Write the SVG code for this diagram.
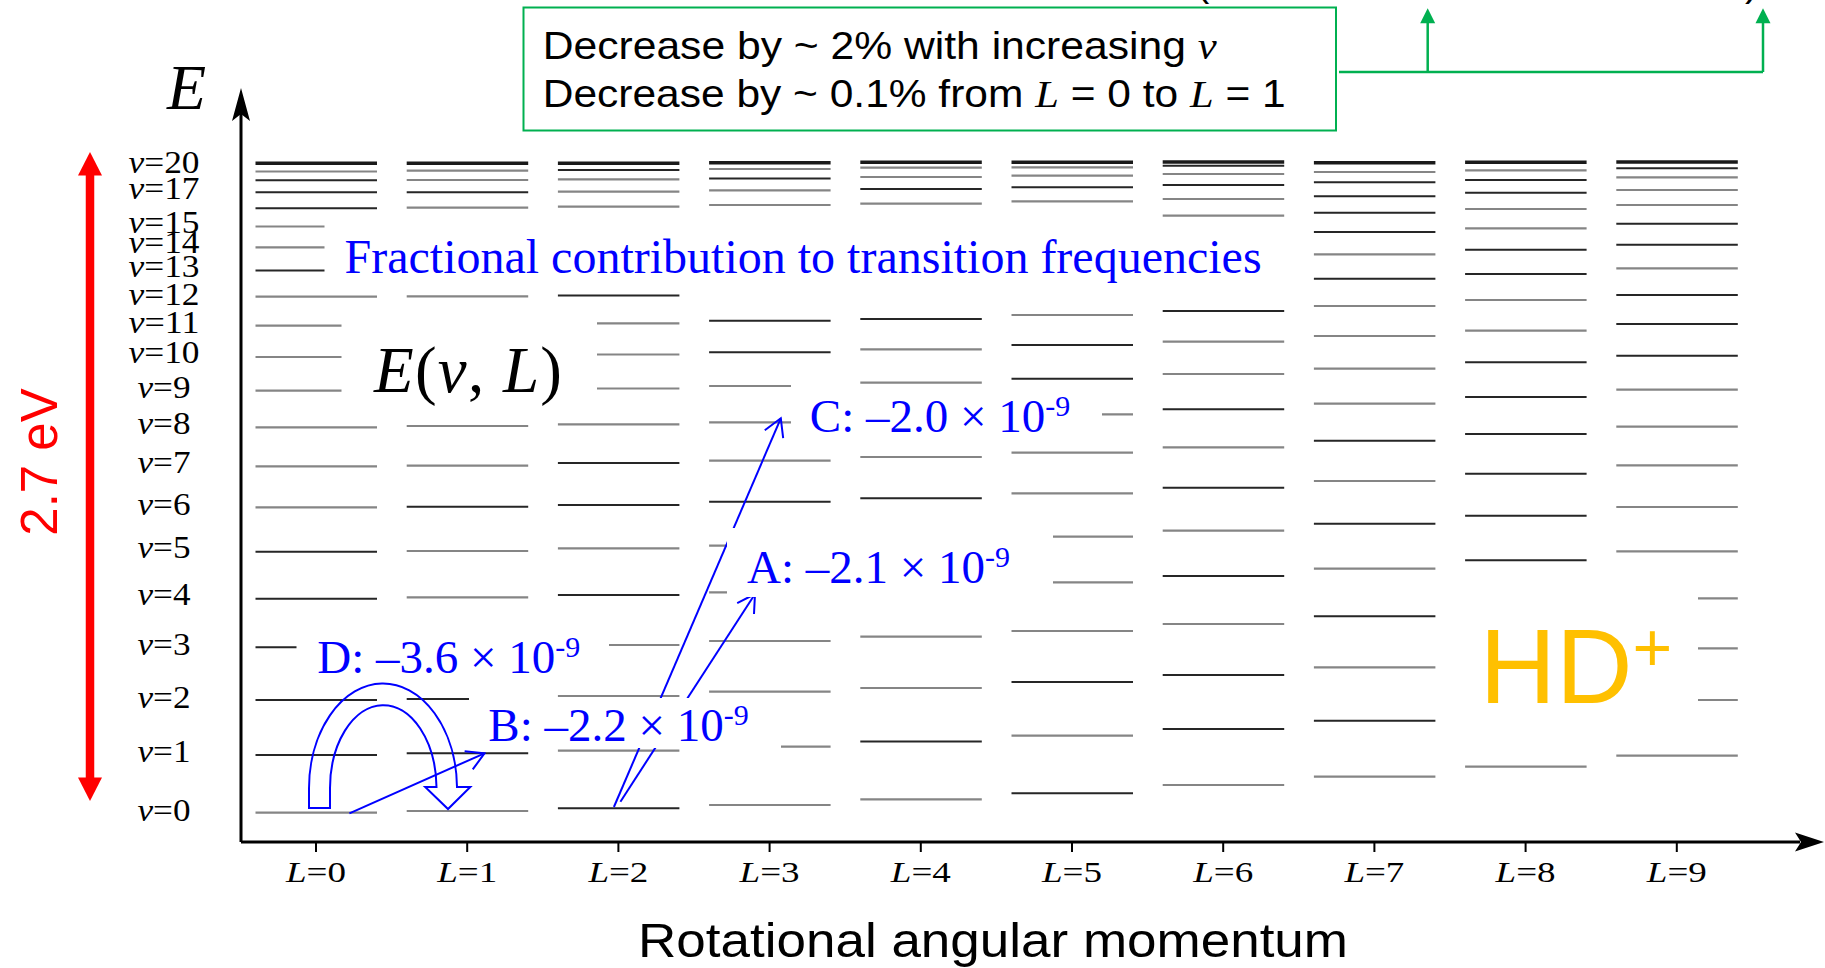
<svg xmlns="http://www.w3.org/2000/svg" width="1825" height="968" viewBox="0 0 1825 968">
<defs>
<marker id="openHead" markerUnits="userSpaceOnUse" viewBox="-20 -12 22 24" refX="0" refY="0" markerWidth="22" markerHeight="24" orient="auto">
<path d="M-17.3,-10 L0,0 L-17.3,10" fill="none" stroke="#0000FF" stroke-width="2"/>
</marker>
</defs>
<style>
.dk{stroke:#262626;stroke-width:2;fill:none}
.gr{stroke:#858585;stroke-width:2.2;fill:none}
.tp{stroke:#1a1a1a;stroke-width:3.6;fill:none}
.serif{font-family:"Liberation Serif","Times New Roman",serif}
.sans{font-family:"Liberation Sans",Arial,sans-serif}
.it{font-style:italic}
.vl{font-size:31px;text-anchor:middle;fill:#000}
.ll{font-size:30px;text-anchor:middle;fill:#000}
.blue{fill:#0000FF}
.frac{font-size:47px}
.sup{font-size:30px}
.wbox{fill:#FFFFFF}
.arr{stroke:#0000FF;stroke-width:2;fill:none}
.grn{stroke:#00B050;stroke-width:2.5;fill:none}
</style>

<g id="levels">
<g id="col-L0">
<path class="dk" d="M255.5 755H377M255.5 700H377M255.5 647.3H296.5M255.5 598.7H377M255.5 551.7H377M255.5 270.5H324.5M255.5 208.3H377M255.5 192.3H377M255.5 180.3H377"/>
<path class="gr" d="M255.5 812.7H377M255.5 507.3H377M255.5 466.3H377M255.5 427.3H377M255.5 390.7H341.5M255.5 357H341.5M255.5 325.7H341.5M255.5 296.7H377M255.5 247.3H324.5M255.5 226.5H324.5M255.5 171.5H377"/>
<path class="tp" d="M255.5 163.3H377"/>
</g>
<g id="col-L1">
<path class="dk" d="M406.7 753.3H528.2M406.7 699H469M406.7 506.7H528.2M406.7 192.3H528.2"/>
<path class="gr" d="M406.7 811H528.2M406.7 597.3H528.2M406.7 551H528.2M406.7 465.7H528.2M406.7 426H528.2M406.7 296.3H528.2M406.7 207.7H528.2M406.7 180H528.2M406.7 170.7H528.2"/>
<path class="tp" d="M406.7 163.3H528.2"/>
</g>
<g id="col-L2">
<path class="dk" d="M557.9 808.3H679.4M557.9 595H679.4M557.9 505H679.4M557.9 463H679.4M557.9 295.5H679.4M557.9 170H679.4"/>
<path class="gr" d="M557.9 750.7H679.4M557.9 696H679.4M609 645H679.4M557.9 548.3H679.4M557.9 424.3H679.4M597 388.5H679.4M597 354.5H679.4M597 323.3H679.4M557.9 206.7H679.4M557.9 191.7H679.4M557.9 179.3H679.4"/>
<path class="tp" d="M557.9 163.3H679.4"/>
</g>
<g id="col-L3">
<path class="dk" d="M709.1 501.7H830.6M709.1 352.3H830.6M709.1 320.7H830.6M709.1 178.5H830.6"/>
<path class="gr" d="M709.1 805H830.6M781 746.7H830.6M709.1 691.7H830.6M709.1 641H830.6M709.1 592.3H727M709.1 545.7H727M709.1 460.7H830.6M709.1 422.3H791M709.1 386H791M709.1 205H830.6M709.1 190.3H830.6M709.1 169H830.6"/>
<path class="tp" d="M709.1 162.7H830.6"/>
</g>
<g id="col-L4">
<path class="dk" d="M860.3 741.4H981.8M860.3 498.3H981.8M860.3 319H981.8M860.3 189H981.8"/>
<path class="gr" d="M860.3 799.3H981.8M860.3 688H981.8M860.3 636.7H981.8M860.3 457H981.8M860.3 382.7H981.8M860.3 349.3H981.8M860.3 203.7H981.8M860.3 177H981.8M860.3 167.7H981.8"/>
<path class="tp" d="M860.3 162.3H981.8"/>
</g>
<g id="col-L5">
<path class="dk" d="M1011.5 793.3H1133M1011.5 682H1133M1011.5 378.7H1133M1011.5 345H1133M1011.5 187.3H1133"/>
<path class="gr" d="M1011.5 735.6H1133M1011.5 631H1133M1053 582.3H1133M1053 536.7H1133M1011.5 493.3H1133M1011.5 452.7H1133M1102 414.3H1133M1011.5 315H1133M1011.5 201.3H1133M1011.5 175.7H1133M1011.5 167.3H1133"/>
<path class="tp" d="M1011.5 162.3H1133"/>
</g>
<g id="col-L6">
<path class="dk" d="M1162.7 729H1284.2M1162.7 675H1284.2M1162.7 576H1284.2M1162.7 487.7H1284.2M1162.7 409.3H1284.2M1162.7 311H1284.2M1162.7 185H1284.2M1162.7 165.7H1284.2"/>
<path class="gr" d="M1162.7 785H1284.2M1162.7 624H1284.2M1162.7 530.7H1284.2M1162.7 447.3H1284.2M1162.7 374H1284.2M1162.7 341.7H1284.2M1162.7 215.7H1284.2M1162.7 199H1284.2M1162.7 174H1284.2"/>
<path class="tp" d="M1162.7 162H1284.2"/>
</g>
<g id="col-L7">
<path class="dk" d="M1313.9 720.7H1435.4M1313.9 616.3H1435.4M1313.9 523.7H1435.4M1313.9 440.7H1435.4M1313.9 278.7H1435.4M1313.9 232H1435.4M1313.9 212.7H1435.4M1313.9 196.3H1435.4M1313.9 182.3H1435.4"/>
<path class="gr" d="M1313.9 776.7H1435.4M1313.9 667.3H1435.4M1313.9 568.7H1435.4M1313.9 481H1435.4M1313.9 403.7H1435.4M1313.9 368.7H1435.4M1313.9 336H1435.4M1313.9 306H1435.4M1313.9 254.3H1435.4M1313.9 172H1435.4"/>
<path class="tp" d="M1313.9 162.7H1435.4"/>
</g>
<g id="col-L8">
<path class="dk" d="M1465.1 560.3H1586.6M1465.1 515.7H1586.6M1465.1 473.7H1586.6M1465.1 434H1586.6M1465.1 397H1586.6M1465.1 362.3H1586.6M1465.1 274H1586.6M1465.1 249.7H1586.6M1465.1 192.7H1586.6M1465.1 180H1586.6"/>
<path class="gr" d="M1465.1 766.7H1586.6M1465.1 330.7H1586.6M1465.1 300H1586.6M1465.1 228.3H1586.6M1465.1 209H1586.6M1465.1 170.3H1586.6"/>
<path class="tp" d="M1465.1 162.3H1586.6"/>
</g>
<g id="col-L9">
<path class="dk" d="M1616.3 355.7H1737.8M1616.3 324H1737.8M1616.3 295H1737.8M1616.3 244.7H1737.8M1616.3 223.7H1737.8M1616.3 168.3H1737.8"/>
<path class="gr" d="M1616.3 755.7H1737.8M1698 700H1737.8M1698 648.3H1737.8M1698 598.3H1737.8M1616.3 551.3H1737.8M1616.3 507H1737.8M1616.3 465.3H1737.8M1616.3 426.7H1737.8M1616.3 389.7H1737.8M1616.3 268.3H1737.8M1616.3 205H1737.8M1616.3 190H1737.8M1616.3 177.3H1737.8"/>
<path class="tp" d="M1616.3 162H1737.8"/>
</g>
</g>

<g id="axes">
<path d="M241 842V110" stroke="#000" stroke-width="3" fill="none"/>
<path d="M241 88L250 121L241 114L232 121Z" fill="#000"/>
<path d="M241 842H1800" stroke="#000" stroke-width="3" fill="none"/>
<path d="M1824 842L1795 832.5L1801 842L1795 851.5Z" fill="#000"/>
<path d="M316 842V852M467.2 842V852M618.4 842V852M769.6 842V852M920.8 842V852M1072 842V852M1223.2 842V852M1374.4 842V852M1525.6 842V852M1676.8 842V852" stroke="#000" stroke-width="2"/>
<text x="167" y="109" class="serif it" font-size="64">E</text>
</g>

<g id="v-labels" class="serif">
<text x="164" y="173.3" class="vl" textLength="71" lengthAdjust="spacingAndGlyphs"><tspan class="it">v</tspan>=20</text>
<text x="164" y="199.3" class="vl" textLength="71" lengthAdjust="spacingAndGlyphs"><tspan class="it">v</tspan>=17</text>
<text x="164" y="233.3" class="vl" textLength="71" lengthAdjust="spacingAndGlyphs"><tspan class="it">v</tspan>=15</text>
<text x="164" y="253.3" class="vl" textLength="71" lengthAdjust="spacingAndGlyphs"><tspan class="it">v</tspan>=14</text>
<text x="164" y="276.7" class="vl" textLength="71" lengthAdjust="spacingAndGlyphs"><tspan class="it">v</tspan>=13</text>
<text x="164" y="305" class="vl" textLength="71" lengthAdjust="spacingAndGlyphs"><tspan class="it">v</tspan>=12</text>
<text x="164" y="333.3" class="vl" textLength="71" lengthAdjust="spacingAndGlyphs"><tspan class="it">v</tspan>=11</text>
<text x="164" y="363.3" class="vl" textLength="71" lengthAdjust="spacingAndGlyphs"><tspan class="it">v</tspan>=10</text>
<text x="164" y="398.3" class="vl" textLength="53" lengthAdjust="spacingAndGlyphs"><tspan class="it">v</tspan>=9</text>
<text x="164" y="434" class="vl" textLength="53" lengthAdjust="spacingAndGlyphs"><tspan class="it">v</tspan>=8</text>
<text x="164" y="473" class="vl" textLength="53" lengthAdjust="spacingAndGlyphs"><tspan class="it">v</tspan>=7</text>
<text x="164" y="515" class="vl" textLength="53" lengthAdjust="spacingAndGlyphs"><tspan class="it">v</tspan>=6</text>
<text x="164" y="558" class="vl" textLength="53" lengthAdjust="spacingAndGlyphs"><tspan class="it">v</tspan>=5</text>
<text x="164" y="605" class="vl" textLength="53" lengthAdjust="spacingAndGlyphs"><tspan class="it">v</tspan>=4</text>
<text x="164" y="655" class="vl" textLength="53" lengthAdjust="spacingAndGlyphs"><tspan class="it">v</tspan>=3</text>
<text x="164" y="708" class="vl" textLength="53" lengthAdjust="spacingAndGlyphs"><tspan class="it">v</tspan>=2</text>
<text x="164" y="762" class="vl" textLength="53" lengthAdjust="spacingAndGlyphs"><tspan class="it">v</tspan>=1</text>
<text x="164" y="820.5" class="vl" textLength="53" lengthAdjust="spacingAndGlyphs"><tspan class="it">v</tspan>=0</text>
</g>

<g id="L-labels" class="serif">
<text x="316" y="882" class="ll" textLength="60" lengthAdjust="spacingAndGlyphs"><tspan class="it">L</tspan>=0</text>
<text x="467.2" y="882" class="ll" textLength="60" lengthAdjust="spacingAndGlyphs"><tspan class="it">L</tspan>=1</text>
<text x="618.4" y="882" class="ll" textLength="60" lengthAdjust="spacingAndGlyphs"><tspan class="it">L</tspan>=2</text>
<text x="769.6" y="882" class="ll" textLength="60" lengthAdjust="spacingAndGlyphs"><tspan class="it">L</tspan>=3</text>
<text x="920.8" y="882" class="ll" textLength="60" lengthAdjust="spacingAndGlyphs"><tspan class="it">L</tspan>=4</text>
<text x="1072" y="882" class="ll" textLength="60" lengthAdjust="spacingAndGlyphs"><tspan class="it">L</tspan>=5</text>
<text x="1223.2" y="882" class="ll" textLength="60" lengthAdjust="spacingAndGlyphs"><tspan class="it">L</tspan>=6</text>
<text x="1374.4" y="882" class="ll" textLength="60" lengthAdjust="spacingAndGlyphs"><tspan class="it">L</tspan>=7</text>
<text x="1525.6" y="882" class="ll" textLength="60" lengthAdjust="spacingAndGlyphs"><tspan class="it">L</tspan>=8</text>
<text x="1676.8" y="882" class="ll" textLength="60" lengthAdjust="spacingAndGlyphs"><tspan class="it">L</tspan>=9</text>
</g>

<g id="connectors">
<line id="arrow-C" class="arr" x1="613.9" y1="807" x2="780.8" y2="418.3" marker-end="url(#openHead)"/>
<line id="arrow-A" class="arr" x1="620.4" y1="801.7" x2="755" y2="594" marker-end="url(#openHead)"/>
<line id="arrow-B" class="arr" x1="349.4" y1="813.3" x2="484.5" y2="753.3" marker-end="url(#openHead)"/>
<path id="arrow-D" class="arr" d="M309,808 L309,790 A74,105 0 0 1 457,787 L470.3,787 L448,809 L425.2,787 L436.5,787 A53,83 0 0 0 330,790 L330,808 Z"/>
<g id="energy-span" fill="#FF0000">
<path d="M90 173V780" stroke="#FF0000" stroke-width="8.5"/>
<path d="M90 152L102 175.5L78 175.5Z"/>
<path d="M90 801L102 777.5L78 777.5Z"/>
</g>
<g id="green-arrows">
<path class="grn" d="M1339 72H1763M1427.7 72V20M1763 72V20"/>
<path d="M1427.7 8.3L1435.2 23.3L1420.2 23.3Z" fill="#00B050"/>
<path d="M1763 8.3L1770.5 23.3L1755.5 23.3Z" fill="#00B050"/>
</g>
</g>

<g id="label-A">
<rect class="wbox" x="727" y="528" width="326" height="69"/>
<text x="747" y="583.3" class="serif blue frac">A: –2.1 × 10<tspan class="sup" dy="-16">-9</tspan></text>
</g>
<g id="label-B">
<rect class="wbox" x="469" y="698" width="312" height="50"/>
<text x="488.3" y="740.5" class="serif blue frac">B: –2.2 × 10<tspan class="sup" dy="-16">-9</tspan></text>
</g>
<g id="label-C">
<text x="809.8" y="431.7" class="serif blue frac">C: –2.0 × 10<tspan class="sup" dy="-16">-9</tspan></text>
</g>
<g id="label-D">
<text x="317.3" y="673.3" class="serif blue frac">D: –3.6 × 10<tspan class="sup" dy="-16">-9</tspan></text>
</g>

<g id="label-fractional">
<text x="344.5" y="272.7" class="serif blue" font-size="48">Fractional contribution to transition frequencies</text>
</g>
<g id="label-EvL">
<text x="374" y="391.7" class="serif" font-size="65" textLength="188" lengthAdjust="spacing"><tspan class="it">E</tspan>(<tspan class="it">v</tspan>, <tspan class="it">L</tspan>)</text>
</g>
<g id="label-HD">
<text x="1479.5" y="702.7" class="sans" font-size="106" fill="#FFC000">HD<tspan font-size="68" dy="-32">+</tspan></text>
</g>
<g id="label-energy">
<text transform="translate(57,462) rotate(-90)" text-anchor="middle" class="sans" font-size="51" fill="#FF0000">2.7 eV</text>
</g>
<g id="label-axis-x">
<text x="638" y="957" class="sans" font-size="49" textLength="710" lengthAdjust="spacingAndGlyphs">Rotational angular momentum</text>
</g>

<g id="note-box">
<rect x="523.5" y="7.5" width="812.5" height="123" fill="#FFFFFF" stroke="#00B050" stroke-width="2"/>
<text x="542.7" y="59.3" class="sans" font-size="38.5" textLength="674" lengthAdjust="spacingAndGlyphs">Decrease by ~ 2% with increasing <tspan class="serif it">v</tspan></text>
<text x="542.7" y="106.7" class="sans" font-size="38.5" textLength="743" lengthAdjust="spacingAndGlyphs">Decrease by ~ 0.1% from <tspan class="serif it">L</tspan> = 0 to <tspan class="serif it">L</tspan> = 1</text>
</g>

<g id="top-fragments" class="sans" font-size="40" fill="#000">
<text x="1196" y="-4">(</text>
<text x="1745" y="-4">)</text>
</g>
</svg>
